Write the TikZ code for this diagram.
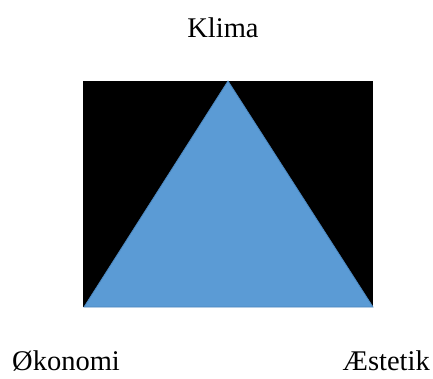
\documentclass[tikz,border=0pt]{standalone}
\usepackage{fontspec}
\setmainfont{Liberation Serif}
\definecolor{triblue}{HTML}{5B9BD5}
\definecolor{triedge}{HTML}{4A86BE}
\begin{document}
\begin{tikzpicture}[x=1pt,y=-1pt,
  lbl/.style={inner sep=0pt,font=\fontsize{28.5}{34}\selectfont}]
\useasboundingbox (0,0) rectangle (433,378);
\fill[white] (0,0) rectangle (433,378);
\fill[black] (83,81) rectangle (373,307);
\coordinate (apex) at (228,81);
\coordinate (bl) at (84,307);
\coordinate (br) at (373,307);
\filldraw[fill=triblue,draw=triedge,line width=0.8pt,line join=miter] (apex) -- (br) -- (bl) -- cycle;
\node[lbl,anchor=base] (klima) at (223,37) {Klima};
\node[lbl,anchor=base west] (okonomi) at (12,370) {Økonomi};
\node[lbl,anchor=base east] (aestetik) at (430,370) {Æstetik};
\end{tikzpicture}
\end{document}
